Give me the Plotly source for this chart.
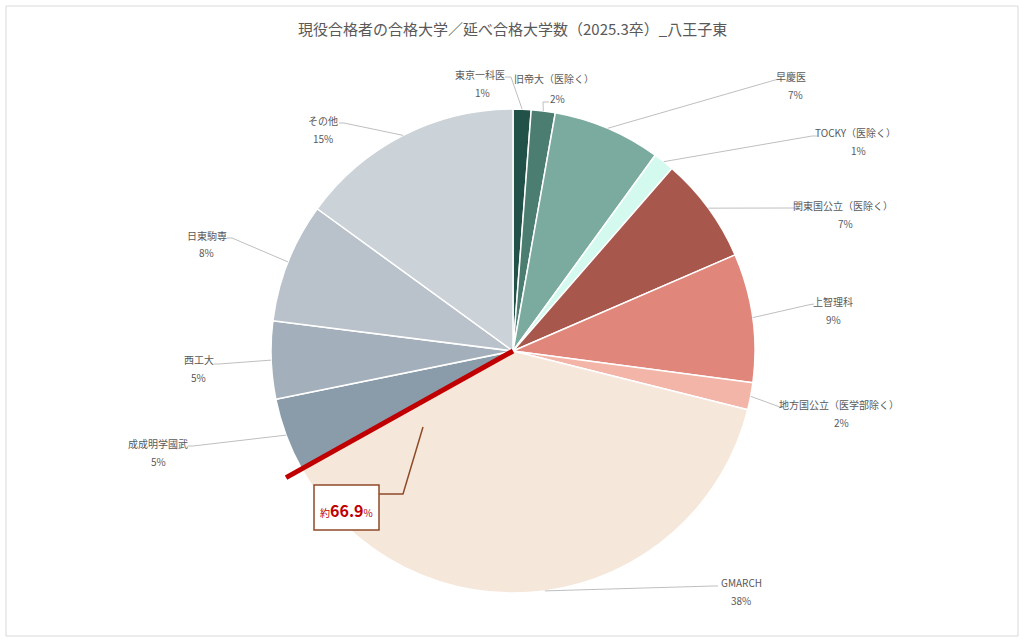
import math
import plotly.graph_objects as go

# data (share of total, %)
categories = ["東京一科医", "旧帝大（医除く）", "早慶医", "TOCKY（医除く）", "関東国公立（医除く）",
              "上智理科", "地方国公立（医学部除く）", "GMARCH", "成成明学國武", "西工大", "日東駒専", "その他"]
shares = [1.2, 1.6, 7.2, 1.4, 7.1, 8.6, 1.8, 38.0, 4.9, 5.2, 8.0, 15.0]
colors = ["#22514A", "#4B7D70", "#7BAA9E", "#D4FAEF", "#A8574C", "#E0867A",
          "#F2B5A8", "#F6E7DB", "#8A9BAA", "#A3AFBA", "#B9C1CA", "#CBD2D8"]
title = "現役合格者の合格大学／延べ合格大学数（2025.3卒）_八王子東"
highlight_upto = "GMARCH"   # red boundary line after this slice

W, H = 1024, 642
CX, CY, R = 513, 351, 242

def px(x):
    return x / W

def py(y):
    return 1 - y / H

# label placement (pixels): name centre, percent centre, leader line points after the slice edge
label_layout = [
    dict(name=(480, 75), pct=(482, 92), pts=[(511, 77), (505, 77)]),
    dict(name=(554, 79), pct=(557, 98), pts=[(543, 102), (549, 102)]),
    dict(name=(791, 77), pct=(795, 94), pts=[(775, 80), (781, 79)]),
    dict(name=(855, 133), pct=(858, 151), pts=[(812, 136), (817, 136)]),
    dict(name=(843, 205), pct=(845, 223), pts=[(797, 208)]),
    dict(name=(833, 302), pct=(833, 319), pts=[(808, 305), (814, 304)]),
    dict(name=(839, 404), pct=(841, 422), pts=[(780, 407), (784, 407)]),
    dict(name=(741, 582), pct=(741, 600), pts=[(713, 586), (718, 586)]),
    dict(name=(158, 443), pct=(158, 461), pts=[(193, 446), (188, 446)]),
    dict(name=(199, 360), pct=(198, 378), pts=[(219, 364), (214, 364)]),
    dict(name=(207, 235), pct=(206, 252), pts=[(232, 238), (227, 238)]),
    dict(name=(323, 121), pct=(323, 138), pts=[(344, 123), (339, 123)]),
]

total = sum(shares)
font = "Noto Sans CJK JP"
text_color = "#595959"

def note(text, x, y, size, color=text_color):
    return dict(text=text, x=px(x), y=py(y), xref="paper", yref="paper", showarrow=False,
                xanchor="center", yanchor="middle", font=dict(size=size, color=color, family=font))

fig = go.Figure()
fig.add_trace(go.Pie(
    labels=categories, values=shares, sort=False, direction="clockwise", rotation=0,
    marker=dict(colors=colors, line=dict(color="white", width=1.5)),
    textinfo="none", hoverinfo="label+percent", showlegend=False,
    domain=dict(x=[(CX - R) / W, (CX + R) / W], y=[1 - (CY + R) / H, 1 - (CY - R) / H]),
))

shapes = [dict(type="rect", xref="paper", yref="paper", x0=px(6), x1=px(1018), y0=py(636), y1=py(6),
               line=dict(color="#D9D9D9", width=1))]
annotations = [note(title, 512, 28, 15)]

cum = 0
for cat, v, lay in zip(categories, shares, label_layout):
    mid = (cum + v / 2) / total * 2 * math.pi
    cum += v
    sx, sy = CX + R * math.sin(mid), CY - R * math.cos(mid)
    path = f"M {px(sx)} {py(sy)}" + "".join(f" L {px(x)} {py(y)}" for x, y in lay["pts"])
    shapes.append(dict(type="path", xref="paper", yref="paper", path=path,
                       line=dict(color="#BFBFBF", width=1)))
    annotations.append(note(cat, *lay["name"], 10))
    annotations.append(note(f"{v / total:.0%}", *lay["pct"], 10))

# red boundary line and the cumulative share callout
idx = categories.index(highlight_upto)
upto = sum(shares[:idx + 1]) / total
ang = upto * 2 * math.pi
ex, ey = CX + 1.074 * R * math.sin(ang), CY - 1.074 * R * math.cos(ang)
shapes.append(dict(type="line", xref="paper", yref="paper", x0=px(CX), y0=py(CY), x1=px(ex), y1=py(ey),
                   line=dict(color="#C00000", width=5)))
shapes.append(dict(type="rect", xref="paper", yref="paper", x0=px(314), x1=px(379), y0=py(530), y1=py(485),
                   fillcolor="white", line=dict(color="#8E4B2A", width=1.5)))
shapes.append(dict(type="path", xref="paper", yref="paper",
                   path=f"M {px(379)} {py(494)} L {px(403)} {py(494)} L {px(423)} {py(427)}",
                   line=dict(color="#8E4B2A", width=1.5)))
annotations.append(note(
    f"<span style='font-size:10px'>約</span><b>{upto * 100:.1f}</b><span style='font-size:10px'>%</span>",
    346, 510, 16, "#C00000"))

fig.update_layout(
    width=W, height=H, margin=dict(l=0, r=0, t=0, b=0),
    paper_bgcolor="white", plot_bgcolor="white",
    shapes=shapes, annotations=annotations,
)

fig.write_html("out.html", config={"displayModeBar": False},
               post_script="document.body.style.margin='0px';")
